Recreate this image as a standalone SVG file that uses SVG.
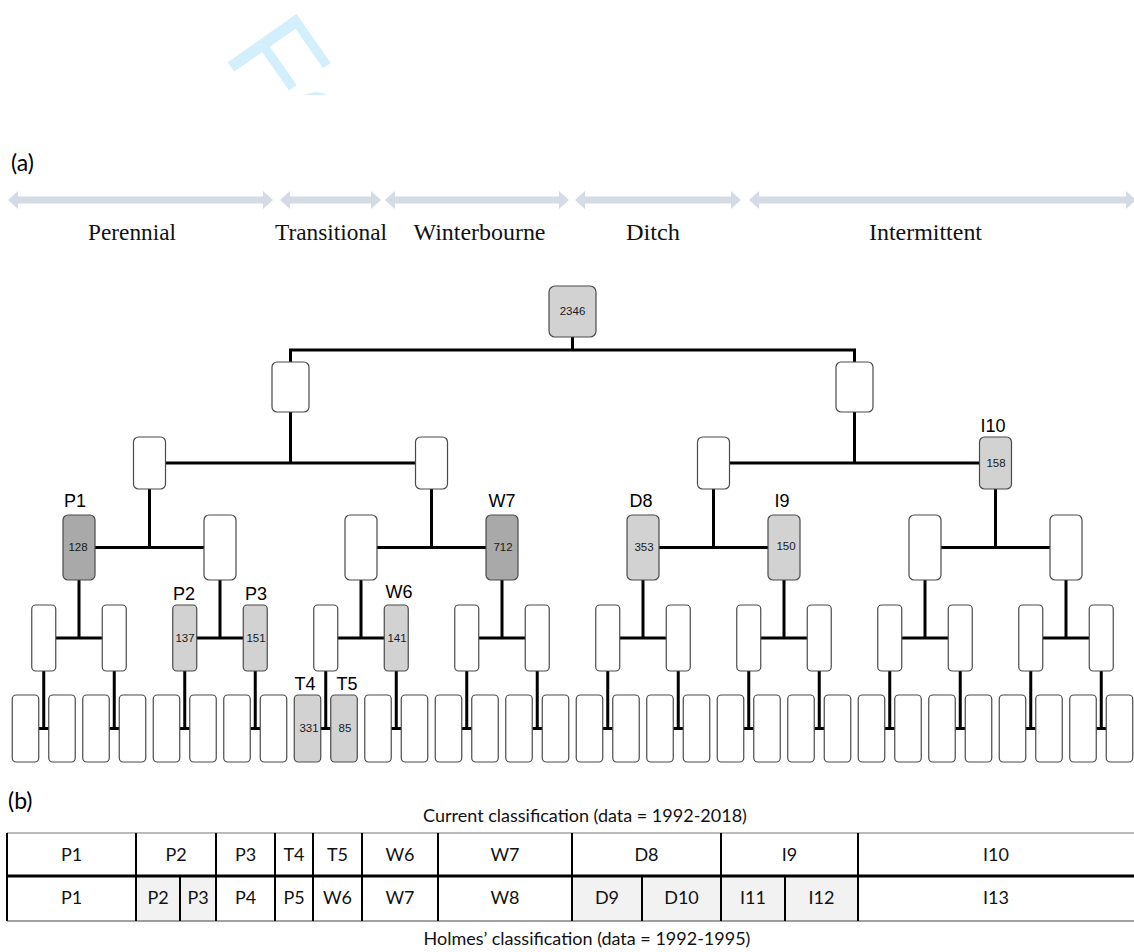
<svg xmlns="http://www.w3.org/2000/svg" width="1134" height="952" viewBox="0 0 1134 952">
<defs>
<style>
.n{fill:#fff;stroke:#4a4a4a;stroke-width:1.2}
.g{fill:#d2d2d2;stroke:#4a4a4a;stroke-width:1.2}
.d{fill:#a9a9a9;stroke:#4a4a4a;stroke-width:1.2}
.c{fill:none;stroke:#000;stroke-width:3}
.num{font-family:"Liberation Sans",Arial,sans-serif;font-size:11.5px;fill:#1a1a1a;text-anchor:middle}
.lab{font-family:"Liberation Sans",Arial,sans-serif;font-size:18px;fill:#000;text-anchor:middle}
.cat{font-family:"Liberation Serif","Times New Roman",serif;font-size:23px;fill:#111;text-anchor:middle}
.arr{fill:#d4dbe5}
.pan{font-family:Lato,"Liberation Sans",sans-serif;font-size:23px;fill:#000}
.tb{font-family:Lato,"Liberation Sans",sans-serif;font-size:18px;fill:#111;text-anchor:middle}
.vl{stroke:#000;stroke-width:2}
</style>
<clipPath id="wmclip"><rect x="0" y="0" width="1134" height="95"/></clipPath>
</defs>
<rect width="1134" height="952" fill="#fff"/>

<!-- watermark -->
<g clip-path="url(#wmclip)">
<text x="222" y="54" transform="rotate(55 222 54)" font-family="Liberation Sans,Arial,sans-serif" font-size="122" fill="#d4effc">Fo</text>
</g>

<text class="pan" x="11" y="171">(a)</text>

<!-- category arrows -->
<g id="categories">
<polygon class="arr" points="8,200 18,191 18,196.5 263,196.5 263,191 273,200 263,209 263,203.5 18,203.5 18,209"/>
<polygon class="arr" points="280,200 290,191 290,196.5 371,196.5 371,191 381,200 371,209 371,203.5 290,203.5 290,209"/>
<polygon class="arr" points="385,200 395,191 395,196.5 559,196.5 559,191 569,200 559,209 559,203.5 395,203.5 395,209"/>
<polygon class="arr" points="575,200 585,191 585,196.5 731,196.5 731,191 741,200 731,209 731,203.5 585,203.5 585,209"/>
<polygon class="arr" points="749,200 759,191 759,196.5 1126,196.5 1126,191 1136,200 1126,209 1126,203.5 759,203.5 759,209"/>
<text class="cat" x="132" y="240" textLength="88" lengthAdjust="spacingAndGlyphs">Perennial</text>
<text class="cat" x="331" y="240" textLength="112" lengthAdjust="spacingAndGlyphs">Transitional</text>
<text class="cat" x="479.5" y="240" textLength="132" lengthAdjust="spacingAndGlyphs">Winterbourne</text>
<text class="cat" x="653" y="240" textLength="54" lengthAdjust="spacingAndGlyphs">Ditch</text>
<text class="cat" x="925.5" y="240" textLength="113" lengthAdjust="spacingAndGlyphs">Intermittent</text>
</g>

<!-- connectors -->
<g id="connectors" class="c">
<path d="M572.5,337V350M290.5,362V350H854.5V362"/>
<path d="M290.5,412V463M165.5,463H415.5M854.5,412V463M729.5,463H979.5"/>
<path d="M149.5,489V547.5M95,547.5H204M431.5,489V547.5M377,547.5H486M713.5,489V547.5M659,547.5H768M995.5,489V547.5M941,547.5H1050"/>
<path d="M79,580V638M55.75,638H102.25M220,580V638M196.75,638H243.25M361,580V638M337.75,638H384.25M502,580V638M478.75,638H525.25M643,580V638M619.75,638H666.25M784,580V638M760.75,638H807.25M925,580V638M901.75,638H948.25M1066,580V638M1042.75,638H1089.25"/>
<path d="M43.75,671V728.5M38.75,728.5H48.75M114.25,671V728.5M109.25,728.5H119.25M184.75,671V728.5M179.75,728.5H189.75M255.25,671V728.5M250.25,728.5H260.25M325.75,671V728.5M320.75,728.5H330.75M396.25,671V728.5M391.25,728.5H401.25M466.75,671V728.5M461.75,728.5H471.75M537.25,671V728.5M532.25,728.5H542.25M607.75,671V728.5M602.75,728.5H612.75M678.25,671V728.5M673.25,728.5H683.25M748.75,671V728.5M743.75,728.5H753.75M819.25,671V728.5M814.25,728.5H824.25M889.75,671V728.5M884.75,728.5H894.75M960.25,671V728.5M955.25,728.5H965.25M1030.75,671V728.5M1025.75,728.5H1035.75M1101.25,671V728.5M1096.25,728.5H1106.25"/>
</g>

<!-- root -->
<g id="root"><rect class="g" x="549" y="286" width="47" height="51" rx="6"/><text class="num" x="572.5" y="315">2346</text></g>

<!-- level 1 -->
<g id="n1a"><rect class="n" x="272" y="362" width="37" height="50" rx="5"/></g>
<g id="n1b"><rect class="n" x="836" y="362" width="37" height="50" rx="5"/></g>

<!-- level 2 -->
<g id="n2a"><rect class="n" x="133.5" y="437" width="32" height="52" rx="5"/></g>
<g id="n2b"><rect class="n" x="415.5" y="437" width="32" height="52" rx="5"/></g>
<g id="n2c"><rect class="n" x="697.5" y="437" width="32" height="52" rx="5"/></g>
<g id="I10"><rect class="g" x="979.5" y="437" width="32" height="52" rx="5"/><text class="num" x="996" y="467">158</text><text class="lab" x="993" y="432">I10</text></g>

<!-- level 3 -->
<g id="P1"><rect class="d" x="63" y="515" width="32" height="65" rx="5"/><text class="num" x="78" y="551">128</text><text class="lab" x="75" y="507">P1</text></g>
<g id="n3b"><rect class="n" x="204" y="515" width="32" height="65" rx="5"/></g>
<g id="n3c"><rect class="n" x="345" y="515" width="32" height="65" rx="5"/></g>
<g id="W7"><rect class="d" x="486" y="515" width="32" height="65" rx="5"/><text class="num" x="503" y="551">712</text><text class="lab" x="502" y="507">W7</text></g>
<g id="D8"><rect class="g" x="627" y="515" width="32" height="65" rx="5"/><text class="num" x="644" y="551">353</text><text class="lab" x="641" y="507">D8</text></g>
<g id="I9"><rect class="g" x="768" y="515" width="32" height="65" rx="5"/><text class="num" x="786" y="550">150</text><text class="lab" x="782" y="507">I9</text></g>
<g id="n3g"><rect class="n" x="909" y="515" width="32" height="65" rx="5"/></g>
<g id="n3h"><rect class="n" x="1050" y="515" width="32" height="65" rx="5"/></g>

<!-- level 4 -->
<g id="n4_0"><rect class="n" x="31.75" y="605" width="24" height="66" rx="4"/></g>
<g id="n4_1"><rect class="n" x="102.25" y="605" width="24" height="66" rx="4"/></g>
<g id="P2"><rect class="g" x="172.75" y="605" width="24" height="66" rx="4"/><text class="num" x="185" y="642">137</text><text class="lab" x="184" y="600">P2</text></g>
<g id="P3"><rect class="g" x="243.25" y="605" width="24" height="66" rx="4"/><text class="num" x="256" y="642">151</text><text class="lab" x="256" y="600">P3</text></g>
<g id="n4_4"><rect class="n" x="313.75" y="605" width="24" height="66" rx="4"/></g>
<g id="W6"><rect class="g" x="384.25" y="605" width="24" height="66" rx="4"/><text class="num" x="397" y="642">141</text><text class="lab" x="399" y="598">W6</text></g>
<g id="n4_6"><rect class="n" x="454.75" y="605" width="24" height="66" rx="4"/></g>
<g id="n4_7"><rect class="n" x="525.25" y="605" width="24" height="66" rx="4"/></g>
<g id="n4_8"><rect class="n" x="595.75" y="605" width="24" height="66" rx="4"/></g>
<g id="n4_9"><rect class="n" x="666.25" y="605" width="24" height="66" rx="4"/></g>
<g id="n4_10"><rect class="n" x="736.75" y="605" width="24" height="66" rx="4"/></g>
<g id="n4_11"><rect class="n" x="807.25" y="605" width="24" height="66" rx="4"/></g>
<g id="n4_12"><rect class="n" x="877.75" y="605" width="24" height="66" rx="4"/></g>
<g id="n4_13"><rect class="n" x="948.25" y="605" width="24" height="66" rx="4"/></g>
<g id="n4_14"><rect class="n" x="1018.75" y="605" width="24" height="66" rx="4"/></g>
<g id="n4_15"><rect class="n" x="1089.25" y="605" width="24" height="66" rx="4"/></g>

<!-- leaves -->
<g id="leaves">
<g id="l0"><rect class="n" x="12.25" y="695" width="26.5" height="67" rx="4"/></g>
<g id="l1"><rect class="n" x="48.75" y="695" width="26.5" height="67" rx="4"/></g>
<g id="l2"><rect class="n" x="82.75" y="695" width="26.5" height="67" rx="4"/></g>
<g id="l3"><rect class="n" x="119.25" y="695" width="26.5" height="67" rx="4"/></g>
<g id="l4"><rect class="n" x="153.25" y="695" width="26.5" height="67" rx="4"/></g>
<g id="l5"><rect class="n" x="189.75" y="695" width="26.5" height="67" rx="4"/></g>
<g id="l6"><rect class="n" x="223.75" y="695" width="26.5" height="67" rx="4"/></g>
<g id="l7"><rect class="n" x="260.25" y="695" width="26.5" height="67" rx="4"/></g>
<g id="T4"><rect class="g" x="294.25" y="695" width="26.5" height="67" rx="4"/><text class="num" x="309" y="732">331</text><text class="lab" x="305" y="690">T4</text></g>
<g id="T5"><rect class="g" x="330.75" y="695" width="26.5" height="67" rx="4"/><text class="num" x="345" y="732">85</text><text class="lab" x="347" y="690">T5</text></g>
<g id="l10"><rect class="n" x="364.75" y="695" width="26.5" height="67" rx="4"/></g>
<g id="l11"><rect class="n" x="401.25" y="695" width="26.5" height="67" rx="4"/></g>
<g id="l12"><rect class="n" x="435.25" y="695" width="26.5" height="67" rx="4"/></g>
<g id="l13"><rect class="n" x="471.75" y="695" width="26.5" height="67" rx="4"/></g>
<g id="l14"><rect class="n" x="505.75" y="695" width="26.5" height="67" rx="4"/></g>
<g id="l15"><rect class="n" x="542.25" y="695" width="26.5" height="67" rx="4"/></g>
<g id="l16"><rect class="n" x="576.25" y="695" width="26.5" height="67" rx="4"/></g>
<g id="l17"><rect class="n" x="612.75" y="695" width="26.5" height="67" rx="4"/></g>
<g id="l18"><rect class="n" x="646.75" y="695" width="26.5" height="67" rx="4"/></g>
<g id="l19"><rect class="n" x="683.25" y="695" width="26.5" height="67" rx="4"/></g>
<g id="l20"><rect class="n" x="717.25" y="695" width="26.5" height="67" rx="4"/></g>
<g id="l21"><rect class="n" x="753.75" y="695" width="26.5" height="67" rx="4"/></g>
<g id="l22"><rect class="n" x="787.75" y="695" width="26.5" height="67" rx="4"/></g>
<g id="l23"><rect class="n" x="824.25" y="695" width="26.5" height="67" rx="4"/></g>
<g id="l24"><rect class="n" x="858.25" y="695" width="26.5" height="67" rx="4"/></g>
<g id="l25"><rect class="n" x="894.75" y="695" width="26.5" height="67" rx="4"/></g>
<g id="l26"><rect class="n" x="928.75" y="695" width="26.5" height="67" rx="4"/></g>
<g id="l27"><rect class="n" x="965.25" y="695" width="26.5" height="67" rx="4"/></g>
<g id="l28"><rect class="n" x="999.25" y="695" width="26.5" height="67" rx="4"/></g>
<g id="l29"><rect class="n" x="1035.75" y="695" width="26.5" height="67" rx="4"/></g>
<g id="l30"><rect class="n" x="1069.75" y="695" width="26.5" height="67" rx="4"/></g>
<g id="l31"><rect class="n" x="1106.25" y="695" width="26.5" height="67" rx="4"/></g>
</g>

<!-- panel b -->
<text class="pan" x="8" y="809">(b)</text>
<g id="table">
<text class="tb" x="585" y="822">Current classification (data = 1992-2018)</text>
<rect x="136" y="876" width="80" height="45" fill="#f2f2f2"/>
<rect x="572" y="876" width="286" height="45" fill="#f2f2f2"/>
<line x1="7" y1="833" x2="1134" y2="833" stroke="#777" stroke-width="1.2"/>
<line x1="7" y1="876" x2="1134" y2="876" stroke="#000" stroke-width="3"/>
<line x1="7" y1="921" x2="1134" y2="921" stroke="#444" stroke-width="1.2"/>
<line class="vl" x1="7" y1="833" x2="7" y2="921"/>
<path class="vl" d="M136,833V921M216,833V921M275,833V921M313,833V921M362,833V921M438,833V921M572,833V921M721,833V921M858,833V921M180,876V921M642,876V921M785,876V921"/>
<text class="tb" x="71.5" y="861">P1</text>
<text class="tb" x="176" y="861">P2</text>
<text class="tb" x="245.5" y="861">P3</text>
<text class="tb" x="294" y="861">T4</text>
<text class="tb" x="337.5" y="861">T5</text>
<text class="tb" x="400" y="861">W6</text>
<text class="tb" x="505" y="861">W7</text>
<text class="tb" x="646.5" y="861">D8</text>
<text class="tb" x="789.5" y="861">I9</text>
<text class="tb" x="996" y="861">I10</text>
<text class="tb" x="71.5" y="904">P1</text>
<text class="tb" x="158" y="904">P2</text>
<text class="tb" x="198" y="904">P3</text>
<text class="tb" x="245.5" y="904">P4</text>
<text class="tb" x="294" y="904">P5</text>
<text class="tb" x="337.5" y="904">W6</text>
<text class="tb" x="400" y="904">W7</text>
<text class="tb" x="505" y="904">W8</text>
<text class="tb" x="607" y="904">D9</text>
<text class="tb" x="681.5" y="904">D10</text>
<text class="tb" x="753" y="904">I11</text>
<text class="tb" x="821.5" y="904">I12</text>
<text class="tb" x="996" y="904">I13</text>
<text class="tb" x="587" y="945">Holmes’ classification (data = 1992-1995)</text>
</g>
</svg>
